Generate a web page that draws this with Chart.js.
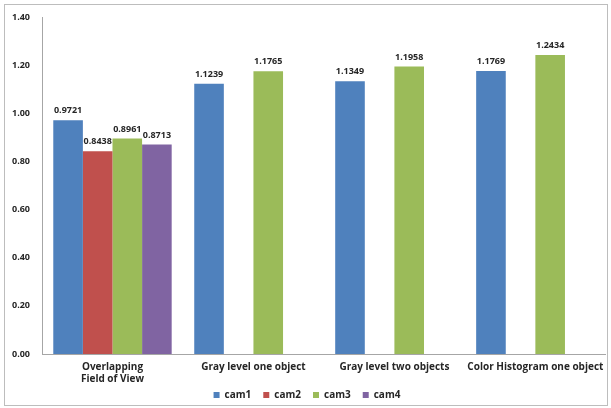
<!DOCTYPE html>
<html>
<head>
<meta charset="utf-8">
<script src="https://cdn.jsdelivr.net/npm/chart.js@4/dist/chart.umd.min.js"></script>
<style>
  html, body { margin: 0; padding: 0; background: #fff; }
  #wrap { width: 611px; height: 408px; }
</style>
</head>
<body>
<div id="wrap"><canvas id="chartCams" width="611" height="408"></canvas></div>
<script>
// values
const categories = [['Overlapping', 'Field of View'], 'Gray level one object', 'Gray level two objects', 'Color Histogram one object'];
const cam1 = [0.9721, 1.1239, 1.1349, 1.1769];
const cam2 = [0.8438, null, null, null];
const cam3 = [0.8961, 1.1765, 1.1958, 1.2434];
const cam4 = [0.8713, null, null, null];
const yTicks = [0, 0.2, 0.4, 0.6, 0.8, 1.0, 1.2, 1.4];

const FONT = '"Open Sans", Lato, sans-serif';
const TEXT = '#262626';

// outer frame round the whole picture
const framePlugin = {
  id: 'frame',
  beforeDraw(chart) {
    const ctx = chart.ctx;
    ctx.save();
    ctx.fillStyle = '#fff';
    ctx.fillRect(0, 0, chart.width, chart.height);
    ctx.strokeStyle = '#bdbdbd';
    ctx.lineWidth = 1;
    ctx.strokeRect(4.5, 4.5, chart.width - 8, chart.height - 7);
    ctx.restore();
  }
};

// value labels on top of each bar
const valueLabels = {
  id: 'valueLabels',
  afterDatasetsDraw(chart) {
    const ctx = chart.ctx;
    ctx.save();
    ctx.font = 'bold 9px ' + FONT;
    ctx.fillStyle = TEXT;
    ctx.textAlign = 'center';
    ctx.textBaseline = 'bottom';
    chart.data.datasets.forEach((ds, i) => {
      chart.getDatasetMeta(i).data.forEach((bar, j) => {
        const v = ds.data[j];
        if (v == null) return;
        ctx.fillText(v.toFixed(4), bar.x, bar.y - 5);
      });
    });
    ctx.restore();
  }
};

new Chart(document.getElementById('chartCams').getContext('2d'), {
  type: 'bar',
  data: {
    labels: categories,
    datasets: [
      { label: 'cam1', data: cam1, backgroundColor: '#4F81BD' },
      { label: 'cam2', data: cam2, backgroundColor: '#C0504D' },
      { label: 'cam3', data: cam3, backgroundColor: '#9BBB59' },
      { label: 'cam4', data: cam4, backgroundColor: '#8064A2' }
    ]
  },
  options: {
    responsive: false,
    animation: false,
    layout: { padding: { top: 14, right: 5, bottom: -2, left: 8 } },
    datasets: { bar: { categoryPercentage: 0.84, barPercentage: 1.0 } },
    plugins: {
      legend: {
        position: 'bottom',
        labels: {
          color: TEXT,
          font: { family: FONT, size: 10, weight: 'bold' },
          boxWidth: 6,
          boxHeight: 6,
          padding: 12
        }
      },
      tooltip: { enabled: false }
    },
    scales: {
      x: {
        grid: { display: false, drawTicks: false },
        border: { display: true, color: '#a6a6a6', width: 1 },
        ticks: {
          color: TEXT,
          font: { family: FONT, size: 10, weight: 'bold', lineHeight: 1.2 },
          maxRotation: 0,
          autoSkip: false,
          padding: 7
        },
        afterFit(scale) {
          scale.height = 24;
          // let the two-line label run past the short axis box
          scale._computeLabelArea = () => undefined;
        }
      },
      y: {
        min: 0,
        max: 1.4,
        afterBuildTicks(scale) { scale.ticks = yTicks.map(v => ({ value: v })); },
        grid: { display: false, drawTicks: false },
        border: { display: true, color: '#a6a6a6', width: 1 },
        ticks: {
          color: TEXT,
          font: { family: FONT, size: 9, weight: 'bold' },
          padding: 12,
          callback: v => Number(v).toFixed(2)
        },
        afterFit(scale) { scale.width = 34; }
      }
    }
  },
  plugins: [framePlugin, valueLabels]
});
</script>
</body>
</html>
